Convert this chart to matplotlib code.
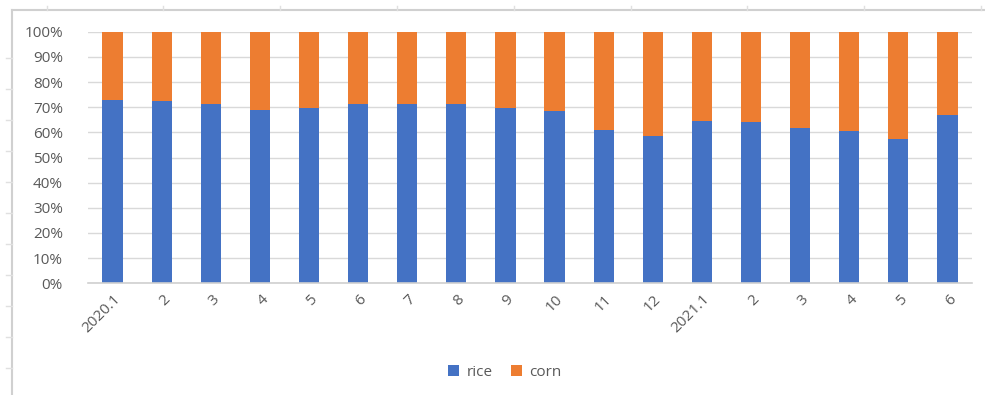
import matplotlib.pyplot as plt
import matplotlib.transforms as mtransforms
from matplotlib.lines import Line2D
from matplotlib.ticker import PercentFormatter

months = ["2020.1", "2", "3", "4", "5", "6", "7", "8", "9", "10", "11", "12",
          "2021.1", "2", "3", "4", "5", "6"]
rice = [72.9, 72.5, 71.1, 68.9, 69.8, 71.4, 71.4, 71.4, 69.8, 68.5, 61.1, 58.7,
        64.4, 64.1, 61.7, 60.7, 57.5, 66.8]
corn = [100 - r for r in rice]

BLUE = "#4472c4"
ORANGE = "#ed7d31"
GREY = "#595959"

plt.rcParams['font.family'] = ['Open Sans', 'DejaVu Sans']

W, H = 985, 395
fig = plt.figure(figsize=(W / 100, H / 100), dpi=100)
ax = fig.add_axes([88 / W, 1 - 283.3 / H, (972 - 88) / W, (283.3 - 31.7) / H])

x = list(range(len(months)))
ax.bar(x, rice, width=0.41, color=BLUE, label="rice", zorder=2)
ax.bar(x, corn, width=0.41, bottom=rice, color=ORANGE, label="corn", zorder=2)

ax.set_xlim(-0.5, len(months) - 0.5)
ax.set_ylim(0, 100)
ax.set_yticks(range(0, 101, 10))
ax.yaxis.set_major_formatter(PercentFormatter(decimals=0))
ax.grid(axis='y', color="#d9d9d9", linewidth=1, zorder=0)
for s in ['top', 'right', 'left']:
    ax.spines[s].set_visible(False)
ax.spines['bottom'].set_color("#d0d0d0")
ax.spines['bottom'].set_linewidth(1.2)
ax.tick_params(axis='both', length=0, colors=GREY, labelsize=11)
ax.tick_params(axis='y', pad=18)
ax.tick_params(axis='x', pad=10)
ax.set_xticks(x)
ax.set_xticklabels(months, rotation=45, ha='right', va='center',
                   rotation_mode='anchor')
shift = mtransforms.ScaledTranslation(0.06, 0, fig.dpi_scale_trans)
for lbl in ax.get_xticklabels():
    lbl.set_transform(lbl.get_transform() + shift)

fig.legend(loc='center', bbox_to_anchor=(505 / W, 1 - 372 / H), ncol=2,
           frameon=False, fontsize=11, handlelength=0.7, handleheight=0.7,
           columnspacing=1.2, handletextpad=0.5, labelcolor=GREY)

# spreadsheet cell borders around the chart
fig.add_artist(Line2D([12 / W, 12 / W], [0, 1 - 10 / H], color="#d0d0d0", lw=1.5))
fig.add_artist(Line2D([12 / W, 1], [1 - 10 / H, 1 - 10 / H], color="#d0d0d0", lw=1.5))
for yy in range(58, 395, 31):
    fig.add_artist(Line2D([6 / W, 12 / W], [1 - yy / H, 1 - yy / H], color="#e0e0e0", lw=1))
for xx in [47, 163, 280, 397, 514, 631, 747, 864, 981]:
    fig.add_artist(Line2D([xx / W, xx / W], [1 - 10 / H, 1 - 6 / H], color="#e0e0e0", lw=1))

fig.savefig("out.png", dpi=100)
